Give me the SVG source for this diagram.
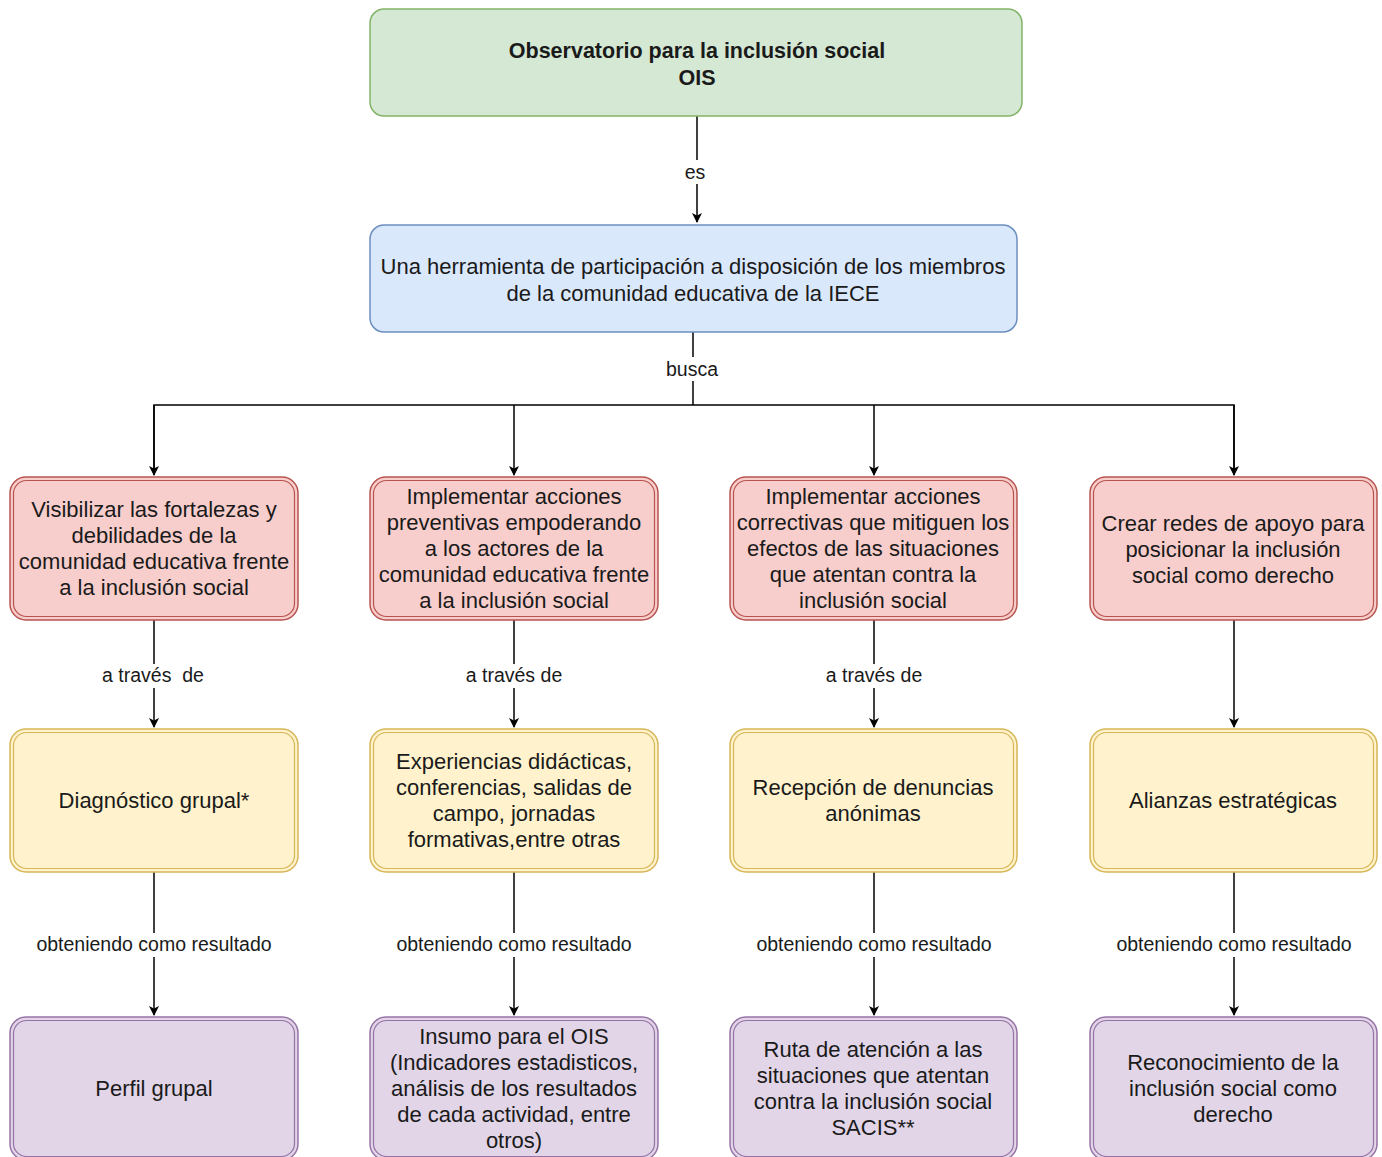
<svg xmlns="http://www.w3.org/2000/svg" width="1382" height="1157" viewBox="0 0 1382 1157">
<defs>
<marker id="arr" viewBox="0 0 10 10" refX="9" refY="5" markerWidth="10" markerHeight="10" markerUnits="userSpaceOnUse" orient="auto">
<path d="M0,0 L10,5 L0,10 L2.5,5 Z" fill="#000"/>
</marker>
<style>
text{font-family:"Liberation Sans",Arial,sans-serif;fill:#1a1a1a;text-anchor:middle}
.t{font-size:22px}
.b{font-size:21.5px;font-weight:bold}
.l{font-size:19.5px}
.lbg{fill:#fff}
.g{fill:#d5e8d4;stroke:#82b366;stroke-width:1.5}
.bl{fill:#dae8fc;stroke:#6c8ebf;stroke-width:1.5}
.r{fill:#f8cecc;stroke:#b85450;stroke-width:1.5}
.y{fill:#fff2cc;stroke:#d6b656;stroke-width:1.5}
.p{fill:#e1d5e7;stroke:#9673a6;stroke-width:1.5}
.in{fill:none;stroke-width:1.2}
.c{fill:none;stroke:#000;stroke-width:1.5}
</style>
</defs>
<rect width="1382" height="1157" fill="#fff"/>
<g id="connectors">
<path class="c" d="M697,116 V222" marker-end="url(#arr)"/>
<path class="c" d="M693,332 V405"/>
<path class="c" d="M154,475 V405 H1234 V475" />
<path class="c" d="M154,405 V475" marker-end="url(#arr)"/>
<path class="c" d="M514,405 V475" marker-end="url(#arr)"/>
<path class="c" d="M874,405 V475" marker-end="url(#arr)"/>
<path class="c" d="M1234,405 V475" marker-end="url(#arr)"/>
<path class="c" d="M154,620 V727" marker-end="url(#arr)"/>
<path class="c" d="M514,620 V727" marker-end="url(#arr)"/>
<path class="c" d="M874,620 V727" marker-end="url(#arr)"/>
<path class="c" d="M1234,620 V727" marker-end="url(#arr)"/>
<path class="c" d="M154,872 V1015" marker-end="url(#arr)"/>
<path class="c" d="M514,872 V1015" marker-end="url(#arr)"/>
<path class="c" d="M874,872 V1015" marker-end="url(#arr)"/>
<path class="c" d="M1234,872 V1015" marker-end="url(#arr)"/>
<rect class="lbg" x="680" y="160" width="34" height="24"/>
<text class="l" x="695" y="179">es</text>
<rect class="lbg" x="660" y="357" width="66" height="24"/>
<text class="l" x="692" y="376">busca</text>
<rect class="lbg" x="94" y="664" width="120" height="24"/>
<text class="l" x="153" y="682" xml:space="preserve">a través  de</text>
<rect class="lbg" x="459" y="664" width="110" height="24"/>
<text class="l" x="514" y="682">a través de</text>
<rect class="lbg" x="819" y="664" width="110" height="24"/>
<text class="l" x="874" y="682">a través de</text>
<rect class="lbg" x="32" y="933" width="244" height="24"/>
<text class="l" x="154" y="951">obteniendo como resultado</text>
<rect class="lbg" x="392" y="933" width="244" height="24"/>
<text class="l" x="514" y="951">obteniendo como resultado</text>
<rect class="lbg" x="752" y="933" width="244" height="24"/>
<text class="l" x="874" y="951">obteniendo como resultado</text>
<rect class="lbg" x="1112" y="933" width="244" height="24"/>
<text class="l" x="1234" y="951">obteniendo como resultado</text>
</g>
<g id="n-ois">
<rect class="g" x="370" y="9" width="652" height="107" rx="14"/>
<text class="b" x="697" y="58">Observatorio para la inclusión social</text>
<text class="b" x="697" y="85">OIS</text>
</g>
<g id="n-herramienta">
<rect class="bl" x="370" y="225" width="647" height="107" rx="14"/>
<text class="t" x="693" y="274">Una herramienta de participación a disposición de los miembros</text>
<text class="t" x="693" y="301">de la comunidad educativa de la IECE</text>
</g>
<g id="n-visibilizar">
<rect class="r" x="10" y="477" width="288" height="143" rx="16"/>
<rect class="r in" x="13.5" y="480.5" width="281" height="136" rx="13"/>
<text class="t" x="154" y="517">Visibilizar las fortalezas y</text>
<text class="t" x="154" y="543">debilidades de la</text>
<text class="t" x="154" y="569">comunidad educativa frente</text>
<text class="t" x="154" y="595">a la inclusión social</text>
</g>
<g id="n-preventivas">
<rect class="r" x="370" y="477" width="288" height="143" rx="16"/>
<rect class="r in" x="373.5" y="480.5" width="281" height="136" rx="13"/>
<text class="t" x="514" y="504">Implementar acciones</text>
<text class="t" x="514" y="530">preventivas empoderando</text>
<text class="t" x="514" y="556">a los actores de la</text>
<text class="t" x="514" y="582">comunidad educativa frente</text>
<text class="t" x="514" y="608">a la inclusión social</text>
</g>
<g id="n-correctivas">
<rect class="r" x="730" y="477" width="287" height="143" rx="16"/>
<rect class="r in" x="733.5" y="480.5" width="280" height="136" rx="13"/>
<text class="t" x="873" y="504">Implementar acciones</text>
<text class="t" x="873" y="530">correctivas que mitiguen los</text>
<text class="t" x="873" y="556">efectos de las situaciones</text>
<text class="t" x="873" y="582">que atentan contra la</text>
<text class="t" x="873" y="608">inclusión social</text>
</g>
<g id="n-redes">
<rect class="r" x="1090" y="477" width="287" height="143" rx="16"/>
<rect class="r in" x="1093.5" y="480.5" width="280" height="136" rx="13"/>
<text class="t" x="1233" y="531">Crear redes de apoyo para</text>
<text class="t" x="1233" y="557">posicionar la inclusión</text>
<text class="t" x="1233" y="583">social como derecho</text>
</g>
<g id="n-diagnostico">
<rect class="y" x="10" y="729" width="288" height="143" rx="16"/>
<rect class="y in" x="13.5" y="732.5" width="281" height="136" rx="13"/>
<text class="t" x="154" y="808">Diagnóstico grupal*</text>
</g>
<g id="n-experiencias">
<rect class="y" x="370" y="729" width="288" height="143" rx="16"/>
<rect class="y in" x="373.5" y="732.5" width="281" height="136" rx="13"/>
<text class="t" x="514" y="769">Experiencias didácticas,</text>
<text class="t" x="514" y="795">conferencias, salidas de</text>
<text class="t" x="514" y="821">campo, jornadas</text>
<text class="t" x="514" y="847">formativas,entre otras</text>
</g>
<g id="n-denuncias">
<rect class="y" x="730" y="729" width="287" height="143" rx="16"/>
<rect class="y in" x="733.5" y="732.5" width="280" height="136" rx="13"/>
<text class="t" x="873" y="795">Recepción de denuncias</text>
<text class="t" x="873" y="821">anónimas</text>
</g>
<g id="n-alianzas">
<rect class="y" x="1090" y="729" width="287" height="143" rx="16"/>
<rect class="y in" x="1093.5" y="732.5" width="280" height="136" rx="13"/>
<text class="t" x="1233" y="808">Alianzas estratégicas</text>
</g>
<g id="n-perfil">
<rect class="p" x="10" y="1017" width="288" height="143" rx="16"/>
<rect class="p in" x="13.5" y="1020.5" width="281" height="136" rx="13"/>
<text class="t" x="154" y="1096">Perfil grupal</text>
</g>
<g id="n-insumo">
<rect class="p" x="370" y="1017" width="288" height="143" rx="16"/>
<rect class="p in" x="373.5" y="1020.5" width="281" height="136" rx="13"/>
<text class="t" x="514" y="1044">Insumo para el OIS</text>
<text class="t" x="514" y="1070">(Indicadores estadisticos,</text>
<text class="t" x="514" y="1096">análisis de los resultados</text>
<text class="t" x="514" y="1122">de cada actividad, entre</text>
<text class="t" x="514" y="1148">otros)</text>
</g>
<g id="n-ruta">
<rect class="p" x="730" y="1017" width="287" height="143" rx="16"/>
<rect class="p in" x="733.5" y="1020.5" width="280" height="136" rx="13"/>
<text class="t" x="873" y="1057">Ruta de atención a las</text>
<text class="t" x="873" y="1083">situaciones que atentan</text>
<text class="t" x="873" y="1109">contra la inclusión social</text>
<text class="t" x="873" y="1135">SACIS**</text>
</g>
<g id="n-reconocimiento">
<rect class="p" x="1090" y="1017" width="287" height="143" rx="16"/>
<rect class="p in" x="1093.5" y="1020.5" width="280" height="136" rx="13"/>
<text class="t" x="1233" y="1070">Reconocimiento de la</text>
<text class="t" x="1233" y="1096">inclusión social como</text>
<text class="t" x="1233" y="1122">derecho</text>
</g>
</svg>
